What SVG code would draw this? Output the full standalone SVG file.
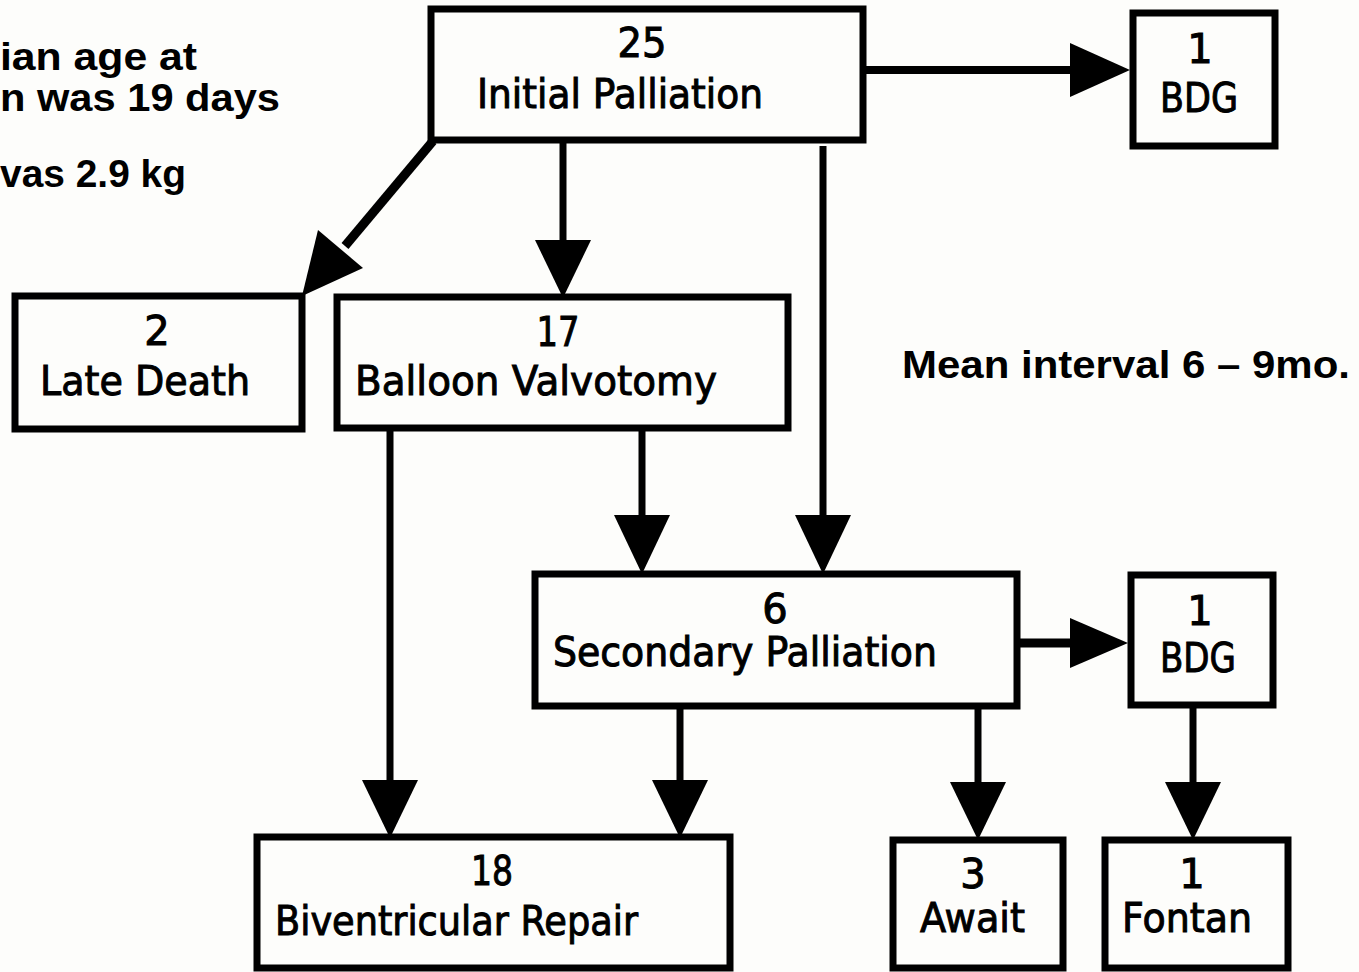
<svg xmlns="http://www.w3.org/2000/svg" width="1359" height="972" viewBox="0 0 1359 972">
<defs>
<style>
.box{fill:none;stroke:#000;stroke-width:7}
.ln{stroke:#000;stroke-width:7;fill:none}
.ah{fill:#000;stroke:none}
.t{font-family:"DejaVu Sans","Noto Sans",sans-serif;font-size:40px;fill:#000;stroke:#000;stroke-width:1}
.n{font-family:"DejaVu Sans","Noto Sans",sans-serif;font-size:40px;fill:#000;stroke:#000;stroke-width:1;text-anchor:middle}
.b{font-family:"Liberation Sans",Arial,sans-serif;font-weight:bold;font-size:38px;fill:#000}
</style>
</defs>
<rect width="1359" height="972" fill="#fdfdfb"/>
<g id="notes">
<text class="b" x="197" y="70" text-anchor="end" textLength="197" lengthAdjust="spacingAndGlyphs">ian age at</text>
<text class="b" x="280" y="111" text-anchor="end" textLength="280" lengthAdjust="spacingAndGlyphs">n was 19 days</text>
<text class="b" x="186" y="187" text-anchor="end" textLength="186" lengthAdjust="spacingAndGlyphs">vas 2.9 kg</text>
<text class="b" x="902" y="378" textLength="448" lengthAdjust="spacingAndGlyphs">Mean interval 6 – 9mo.</text>
</g>
<g id="connectors">
<line class="ln" x1="866" y1="70" x2="1075" y2="70" style="stroke-width:8"/>
<polygon class="ah" points="1070,43 1130,70 1070,97"/>
<line class="ln" x1="433" y1="141" x2="345" y2="246" style="stroke-width:9"/>
<polygon class="ah" points="302,296 318,230 363,268"/>
<line class="ln" x1="563" y1="143" x2="563" y2="245"/>
<polygon class="ah" points="535,240 591,240 563,298"/>
<line class="ln" x1="823" y1="146" x2="823" y2="520"/>
<polygon class="ah" points="795,515 851,515 823,574"/>
<line class="ln" x1="642" y1="431" x2="642" y2="520"/>
<polygon class="ah" points="614,515 670,515 642,574"/>
<line class="ln" x1="390" y1="431" x2="390" y2="785"/>
<polygon class="ah" points="362,780 418,780 390,838"/>
<line class="ln" x1="680" y1="709" x2="680" y2="785"/>
<polygon class="ah" points="652,780 708,780 680,838"/>
<line class="ln" x1="978" y1="709" x2="978" y2="787"/>
<polygon class="ah" points="950,782 1006,782 978,840"/>
<line class="ln" x1="1020" y1="643" x2="1075" y2="643" style="stroke-width:9"/>
<polygon class="ah" points="1070,618 1128,643 1070,668"/>
<line class="ln" x1="1193" y1="708" x2="1193" y2="787"/>
<polygon class="ah" points="1165,782 1221,782 1193,840"/>
</g>
<g id="initial">
<rect class="box" x="431" y="9" width="432" height="131"/>
<text class="n" x="642" y="57" textLength="49" lengthAdjust="spacingAndGlyphs">25</text>
<text class="t" x="477" y="108" textLength="286" lengthAdjust="spacingAndGlyphs">Initial Palliation</text>
</g>
<g id="bdg1">
<rect class="box" x="1133" y="13" width="142" height="133"/>
<text class="n" x="1200" y="63">1</text>
<text class="t" x="1160" y="112" textLength="78" lengthAdjust="spacingAndGlyphs">BDG</text>
</g>
<g id="latedeath">
<rect class="box" x="15" y="296" width="287" height="133"/>
<text class="n" x="157" y="345">2</text>
<text class="t" x="40" y="395" textLength="210" lengthAdjust="spacingAndGlyphs">Late Death</text>
</g>
<g id="balloon">
<rect class="box" x="337" y="297" width="451" height="131"/>
<text class="n" x="558" y="346" textLength="43" lengthAdjust="spacingAndGlyphs">17</text>
<text class="t" x="355" y="395" textLength="362" lengthAdjust="spacingAndGlyphs">Balloon Valvotomy</text>
</g>
<g id="secondary">
<rect class="box" x="535" y="574" width="482" height="132"/>
<text class="n" x="775" y="623">6</text>
<text class="t" x="553" y="666" textLength="384" lengthAdjust="spacingAndGlyphs">Secondary Palliation</text>
</g>
<g id="bdg2">
<rect class="box" x="1131" y="575" width="142" height="130"/>
<text class="n" x="1200" y="625">1</text>
<text class="t" x="1160" y="672" textLength="76" lengthAdjust="spacingAndGlyphs">BDG</text>
</g>
<g id="biventricular">
<rect class="box" x="257" y="837" width="473" height="131"/>
<text class="n" x="492" y="885" textLength="42" lengthAdjust="spacingAndGlyphs">18</text>
<text class="t" x="275" y="935" textLength="363" lengthAdjust="spacingAndGlyphs">Biventricular Repair</text>
</g>
<g id="await">
<rect class="box" x="893" y="840" width="170" height="128"/>
<text class="n" x="973" y="888">3</text>
<text class="t" x="920" y="932" textLength="105" lengthAdjust="spacingAndGlyphs">Await</text>
</g>
<g id="fontan">
<rect class="box" x="1105" y="840" width="183" height="128"/>
<text class="n" x="1192" y="888">1</text>
<text class="t" x="1122" y="932" textLength="130" lengthAdjust="spacingAndGlyphs">Fontan</text>
</g>
</svg>
